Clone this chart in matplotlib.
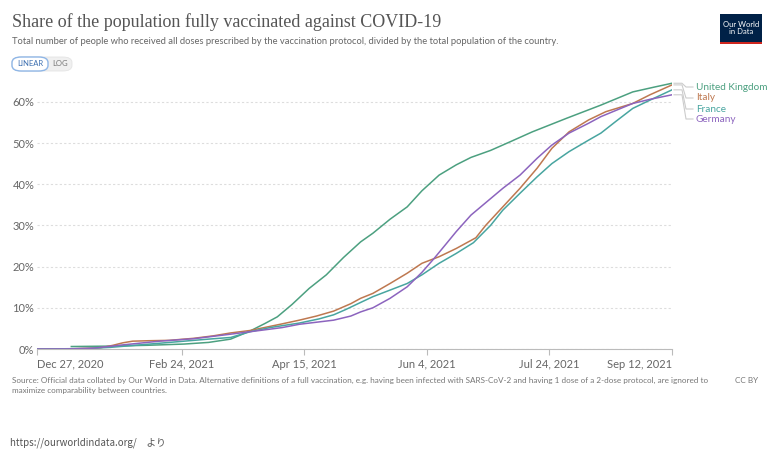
import matplotlib
matplotlib.use('Agg')
import matplotlib.pyplot as plt
from matplotlib.patches import FancyBboxPatch, Rectangle
import datetime as dt

# days counted from Dec 27, 2020, values in % of population
uk_days = [14, 30, 45, 60, 70, 79, 87, 93, 98, 104, 111, 118, 125, 132, 137, 144, 151, 157, 164, 171,
           177, 185, 193, 202, 216, 230, 243, 252, 259]
uk_vals = [0.6, 0.7, 0.9, 1.2, 1.6, 2.4, 4.4, 6.2, 7.8, 10.8, 14.7, 18.0, 22.2, 26.0, 28.1, 31.5, 34.5, 38.4,
           42.2, 44.7, 46.5, 48.2, 50.3, 52.7, 56.0, 59.2, 62.4, 63.6, 64.5]

it_days = [0, 15, 26, 31, 35, 39, 45, 54, 64, 72, 79, 87, 100, 107, 114, 121, 128, 132, 137, 144, 151, 157,
           164, 171, 179, 183, 190, 197, 204, 210, 217, 225, 232, 243, 250, 259]
it_vals = [0, 0.05, 0.3, 0.9, 1.5, 1.9, 2.0, 2.1, 2.6, 3.2, 3.9, 4.5, 6.1, 7.0, 8.0, 9.2, 11.0, 12.3, 13.5,
           15.9, 18.4, 20.8, 22.4, 24.4, 27.0, 30.0, 34.5, 39.0, 43.9, 48.7, 52.7, 55.6, 57.6, 59.6, 61.7, 64.1]

fr_days = [0, 20, 30, 40, 50, 60, 70, 79, 87, 95, 107, 115, 121, 126, 132, 137, 144, 151, 157, 164, 171,
           178, 185, 190, 197, 204, 210, 217, 225, 230, 236, 243, 250, 259]
fr_vals = [0, 0.1, 0.4, 0.9, 1.4, 1.9, 2.4, 2.8, 4.2, 5.2, 6.3, 7.3, 8.3, 9.6, 11.3, 12.7, 14.3, 15.9, 18.0,
           20.8, 23.2, 25.8, 30.0, 33.7, 37.8, 41.8, 45.0, 47.9, 50.7, 52.4, 55.2, 58.4, 60.4, 62.9]

de_days = [0, 12, 23, 35, 50, 64, 79, 87, 100, 107, 121, 128, 132, 137, 144, 151, 157, 162, 167, 171, 177,
           183, 190, 197, 204, 210, 217, 225, 230, 243, 250, 259]
de_vals = [0, 0.02, 0.2, 1.0, 1.9, 2.5, 3.6, 4.2, 5.2, 6.0, 7.0, 8.0, 9.0, 10.0, 12.3, 15.1, 18.6, 22.0, 25.6,
           28.5, 32.5, 35.5, 39.0, 42.2, 46.3, 49.5, 52.4, 54.8, 56.4, 59.6, 60.6, 61.7]

countries = ['United Kingdom', 'Italy', 'France', 'Germany']
colors = ['#4ca080', '#be7850', '#48a5a0', '#8c64be']
tick_dates = ['2020-12-27', '2021-02-24', '2021-04-15', '2021-06-04', '2021-07-24', '2021-09-12']

start = dt.date(2020, 12, 27)
def to_dates(days):
    return [start + dt.timedelta(days=d) for d in days]

fig = plt.figure(figsize=(7.69, 4.61), dpi=100)
W, H = 769, 461
ax = fig.add_axes([37 / W, (H - 349) / H, (672 - 37) / W, (349 - 81.2) / H])

series = [(uk_days, uk_vals), (it_days, it_vals), (fr_days, fr_vals), (de_days, de_vals)]
for (d, v), c in zip(series, colors):
    ax.plot(to_dates(d), v, color=c, lw=1.1, solid_joinstyle='round')

ax.set_xlim(dt.date(2020, 12, 27), dt.date(2021, 9, 12))
ax.set_ylim(0, 65)
ax.set_yticks([0, 10, 20, 30, 40, 50, 60])
ax.set_yticklabels(['0%', '10%', '20%', '30%', '40%', '50%', '60%'], fontsize=8, color='#666666',
                   family='Lato')
ax.yaxis.grid(True, color='#dddddd', linestyle=(0, (2, 2)), lw=0.8)
ax.tick_params(axis='y', length=0, pad=2)
for s in ['top', 'right', 'left']:
    ax.spines[s].set_visible(False)
ax.spines['bottom'].set_color('#bbbbbb')
ax.spines['bottom'].set_linewidth(0.8)

xt = [dt.datetime.strptime(t, '%Y-%m-%d').date() for t in tick_dates]
ax.set_xticks(xt)
labels = [d.strftime('%b %-d, %Y') for d in xt]
ax.set_xticklabels(labels, fontsize=8, color='#666666', family='Lato')
ax.tick_params(axis='x', length=4, color='#bbbbbb', pad=3)
tl = ax.get_xticklabels()
tl[0].set_ha('left')
tl[-1].set_ha('right')

# end labels with connector lines
end_y = [uk_vals[-1], it_vals[-1], fr_vals[-1], de_vals[-1]]
lab_y = [87, 98, 109, 119]
for name, c, ey, ly in zip(countries, colors, end_y, lab_y):
    ypix = 349 - ey * 4.12
    fig.add_artist(plt.Line2D([674 / W, 682 / W, 686 / W, 693 / W],
                              [(H - ypix) / H, (H - ypix) / H, (H - ly) / H, (H - ly) / H],
                              color='#cccccc', lw=0.8))
    fig.text(696 / W, (H - ly) / H, name, color=c, fontsize=7.2, family='Lato', va='center')

# header
fig.text(12 / W, (H - 22) / H, 'Share of the population fully vaccinated against COVID-19',
         fontsize=13, family='Liberation Serif', color='#555555', va='center')
fig.text(12 / W, (H - 42) / H,
         'Total number of people who received all doses prescribed by the vaccination protocol, '
         'divided by the total population of the country.',
         fontsize=6.75, family='Lato', color='#666666', va='center')

# linear / log buttons
fig.add_artist(FancyBboxPatch((12 / W, (H - 71) / H), 60 / W, 14 / H,
                              boxstyle='round,pad=0,rounding_size=0.012', fc='#f0f0f0', ec='#e4e4e4',
                              lw=0.6, transform=fig.transFigure))
fig.add_artist(FancyBboxPatch((12 / W, (H - 71) / H), 36 / W, 14 / H,
                              boxstyle='round,pad=0,rounding_size=0.012', fc='white', ec='#8fb6e6',
                              lw=1.0, transform=fig.transFigure))
fig.text(30 / W, (H - 64) / H, 'LINEAR', fontsize=5.5, family='Lato', color='#3c6fb0',
         ha='center', va='center')
fig.text(60 / W, (H - 64) / H, 'LOG', fontsize=5.5, family='Lato', color='#777777',
         ha='center', va='center')

# logo
fig.add_artist(Rectangle((720 / W, (H - 42) / H), 42 / W, 28 / H, fc='#002147', ec='none',
                         transform=fig.transFigure))
fig.add_artist(Rectangle((720 / W, (H - 44) / H), 42 / W, 2 / H, fc='#ce261e', ec='none',
                         transform=fig.transFigure))
fig.text(741 / W, (H - 28) / H, 'Our World\nin Data', fontsize=5.5, family='Lato', color='white',
         ha='center', va='center', linespacing=1.0)

# footer
fig.text(12 / W, (H - 380) / H,
         'Source: Official data collated by Our World in Data. Alternative definitions of a full vaccination, '
         'e.g. having been infected with SARS-CoV-2 and having 1 dose of a 2-dose protocol, are ignored to',
         fontsize=5.9, family='Lato', color='#777777', va='center')
fig.text(12 / W, (H - 390) / H, 'maximize comparability between countries.',
         fontsize=5.9, family='Lato', color='#777777', va='center')
fig.text(758 / W, (H - 380) / H, 'CC BY', fontsize=5.9, family='Lato', color='#777777',
         va='center', ha='right')

fig.text(10 / W, (H - 443) / H, 'https://ourworldindata.org/\u3000より', fontsize=7,
         family=['Noto Sans CJK JP', 'DejaVu Sans'], color='#555555', va='center')

fig.savefig('out.png', dpi=100)
